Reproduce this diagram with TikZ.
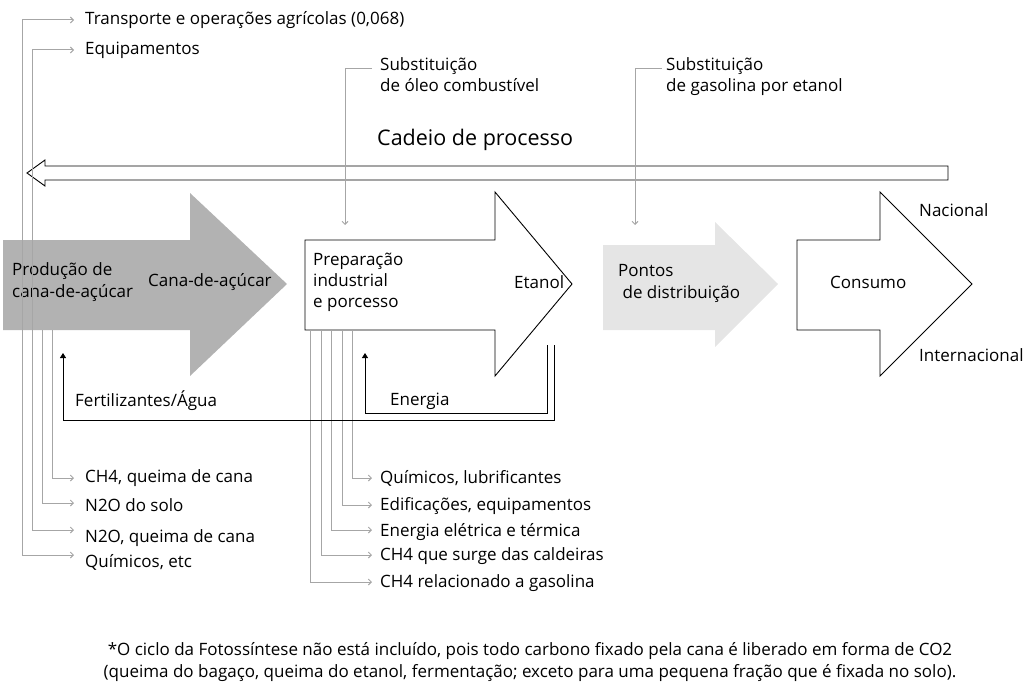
\documentclass[tikz,border=0pt]{standalone}
\usepackage{fontspec}
\setmainfont{Open Sans}
\usetikzlibrary{arrows.meta}
\begin{document}
\begin{tikzpicture}[x=1pt,y=-1pt,
  gl/.style={draw=black!35,line width=1pt},
  ga/.style={gl,-{Straight Barb[length=3pt,width=6pt]}},
  bl/.style={draw=black,line width=0.9pt},
  lab/.style={anchor=west,inner sep=0,font=\fontsize{17}{21}\selectfont},
  ]
\useasboundingbox (0,0) rectangle (1024,693);
% big arrows
\path[fill=black!30] (3,240) -- (190,240) -- (190,193) -- (287,284) -- (190,376) -- (190,330) -- (3,330) -- cycle;
\path[fill=black!10] (603,245) -- (715,245) -- (715,222) -- (778,284) -- (715,347) -- (715,330) -- (603,330) -- cycle;
\draw[bl] (305,240) -- (495,240) -- (495,192) -- (572,284) -- (495,376) -- (495,330) -- (305,330) -- cycle;
\draw[bl] (797,240) -- (880,240) -- (880,192) -- (972,284) -- (880,376) -- (880,330) -- (797,330) -- cycle;
% top hollow arrow
\draw[bl] (948,166) -- (45,166) -- (45,160) -- (27,173) -- (45,186) -- (45,180) -- (948,180) -- cycle;
\node[lab,font=\fontsize{21.5}{24}\selectfont] (cp) at (377,140) {Cadeio de processo};
% texts in arrows
\node[lab] (p1) at (12,282) {\begin{tabular}{@{}l@{}}Produção de\\[1pt]cana-de-açúcar\end{tabular}};
\node[lab] (ca) at (148,282) {Cana-de-açúcar};
\node[lab] (pr) at (313,282) {\begin{tabular}{@{}l@{}}Preparação\\industrial\\e porcesso\end{tabular}};
\node[lab] (et) at (514,282) {Etanol};
\node[lab] (po) at (618,283) {\begin{tabular}{@{}l@{}}Pontos\\[1pt]\ de distribuição\end{tabular}};
\node[lab] (co) at (830,282) {Consumo};
\node[lab] (na) at (919,210) {Nacional};
\node[lab] (in) at (919,355) {Internacional};
% top left gray
\node[lab] (t1) at (85,20) {Transporte e operações agrícolas (0,068)};
\node[lab] (t2) at (85,50) {Equipamentos};
\coordinate (a1) at (74,20);\coordinate (a2) at (74,50);
\draw[ga] (22,555) |- (a1);
\draw[ga] (32,530) |- (a2);
% substitution
\node[lab] (s1) at (380,77) {\begin{tabular}{@{}l@{}}Substituição\\de óleo combustível\end{tabular}};
\node[lab] (s2) at (666,77) {\begin{tabular}{@{}l@{}}Substituição\\de gasolina por etanol\end{tabular}};
\coordinate (sa) at (345,225);\coordinate (sb) at (635,225);
\draw[ga] (372,68) -- (345,68) -- (sa);
\draw[ga] (662,68) -- (635,68) -- (sb);
% bottom left
\node[lab] (b1) at (85,478) {CH4, queima de cana};
\node[lab] (b2) at (85,505) {N2O do solo};
\node[lab] (b3) at (85,538) {N2O, queima de cana};
\node[lab] (b4) at (85,562) {Químicos, etc};
\draw[ga] (52,330) |- (74,478);
\draw[ga] (42,330) |- (74,503);
\draw[ga] (32,530) -- (74,530);
\draw[ga] (22,555) -- (74,555);
% bottom middle
\node[lab] (m1) at (380,478) {Químicos, lubrificantes};
\node[lab] (m2) at (380,506) {Edificações, equipamentos};
\node[lab] (m3) at (380,532) {Energia elétrica e térmica};
\node[lab] (m4) at (380,556) {CH4 que surge das caldeiras};
\node[lab] (m5) at (380,583) {CH4 relacionado a gasolina};
\draw[ga] (352,330) |- (372,478);
\draw[ga] (342,330) |- (372,505);
\draw[ga] (331,330) |- (372,530);
\draw[ga] (321,330) |- (372,555);
\draw[ga] (310,330) |- (372,582);
% feedback
\node[lab] (fa) at (75,401) {Fertilizantes/Água};
\node[lab] (en) at (390,401) {Energia};
\coordinate (fe) at (63,353);\coordinate (ee) at (365,353);
\draw[bl,-{Triangle[length=5pt,width=6pt]}] (554,345) -- (554,420) -- (63,420) -- (fe);
\draw[bl,-{Triangle[length=5pt,width=6pt]}] (547,345) -- (547,413) -- (365,413) -- (ee);
% footnote
\node[inner sep=0,align=center,font=\fontsize{17}{22}\selectfont] (fn) at (530,662) {*O ciclo da Fotossíntese não está incluído, pois todo carbono fixado pela cana é liberado em forma de CO2\\(queima do bagaço, queima do etanol, fermentação; exceto para uma pequena fração que é fixada no solo).};
\end{tikzpicture}
\end{document}
